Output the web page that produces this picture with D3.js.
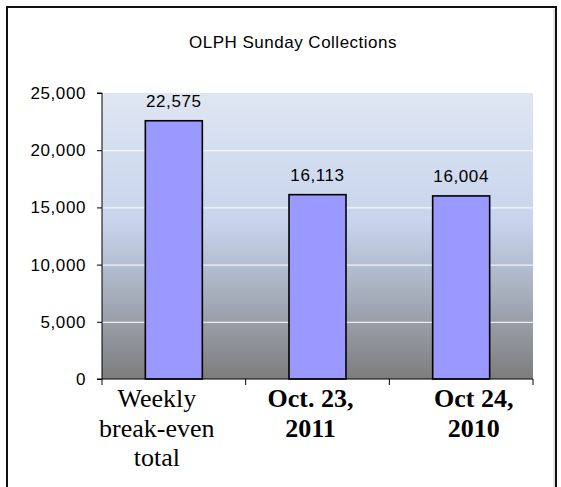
<!DOCTYPE html>
<html><head><meta charset="utf-8">
<script src="https://cdn.jsdelivr.net/npm/d3@7/dist/d3.min.js"></script>
<style>body{margin:0;background:#fff}svg{display:block}</style>
</head><body><svg id="c" width="561" height="487"></svg>
<script>
const title = "OLPH Sunday Collections";
const categories = ["Weekly break-even total", "Oct. 23, 2011", "Oct 24, 2010"];
const categoryLines = [["Weekly", "break-even", "total"], ["Oct. 23,", "2011"], ["Oct 24,", "2010"]];
const categoryBold = [false, true, true];
const values = [22575, 16113, 16004];
const yTicks = [0, 5000, 10000, 15000, 20000, 25000];
// layout constants
const labelShift = [-17, -7, 12.5];

const svg = d3.select("#c");
const L = 102, R = 533, T = 93, B = 379;

svg.append("rect").attr("x", 7).attr("y", 7).attr("width", 549).attr("height", 500)
  .attr("fill", "#fff").attr("stroke", "#111").attr("stroke-width", 2);
svg.append("line").attr("x1", 554).attr("x2", 554).attr("y1", 9).attr("y2", 487)
  .attr("stroke", "#c8c8c8").attr("stroke-width", 1);

const defs = svg.append("defs");
const g = defs.append("linearGradient").attr("id", "bg").attr("x1", 0).attr("x2", 0).attr("y1", 0).attr("y2", 1);
[["0%", "#dfe6f3"], ["45%", "#c7d4ec"], ["62%", "#b2bccf"], ["100%", "#7d7d7d"]]
  .forEach(s => g.append("stop").attr("offset", s[0]).attr("stop-color", s[1]));

const x = d3.scaleBand().domain(categories).range([L, R]).paddingInner(0).paddingOuter(0);
const y = d3.scaleLinear().domain([0, 25000]).range([B, T]);

svg.append("rect").attr("x", L).attr("y", T).attr("width", R - L).attr("height", B - T).attr("fill", "url(#bg)");

svg.append("g").selectAll("line").data(yTicks.filter(t => t > 0 && t < 25000)).join("line")
  .attr("x1", L).attr("x2", R).attr("y1", d => y(d) + 0.5).attr("y2", d => y(d) + 0.5)
  .attr("stroke", "#fff").attr("stroke-width", 1);

const barW = 57;
svg.append("g").selectAll("rect").data(values).join("rect")
  .attr("x", (d, i) => x(categories[i]) + x.bandwidth() / 2 - barW / 2)
  .attr("y", d => y(d))
  .attr("width", barW)
  .attr("height", d => B - y(d))
  .attr("fill", "#9999ff").attr("stroke", "#000").attr("stroke-width", 1.6);

const fmt = d3.format(",");
const sans = "Arial, 'Liberation Sans', sans-serif";
svg.append("g").selectAll("text").data(values).join("text")
  .attr("x", (d, i) => x(categories[i]) + x.bandwidth() / 2)
  .attr("y", d => y(d) - 14)
  .attr("text-anchor", "middle")
  .attr("font-family", sans).attr("font-size", 17)
  .attr("letter-spacing", 0.6).attr("fill", "#000")
  .text(d => fmt(d));

// y axis
const ya = d3.axisLeft(y).tickValues(yTicks).tickFormat(fmt).tickSize(5).tickPadding(10);
const yg = svg.append("g").attr("transform", `translate(${L},0)`).call(ya);
yg.select(".domain").attr("stroke", "#000").attr("d", `M-5,${T}H0V${B}`);
yg.selectAll(".tick line").attr("stroke", "#000");
yg.selectAll(".tick text").attr("font-family", sans)
  .attr("font-size", 17).attr("letter-spacing", 0.6).attr("fill", "#000").attr("x", -16);

// x axis
const xa = svg.append("g").attr("transform", `translate(0,${B})`);
xa.append("line").attr("x1", L - 5).attr("x2", R).attr("y1", 0).attr("y2", 0).attr("stroke", "#000").attr("stroke-width", 1);
const edges = categories.map(c => x(c)).concat([R]);
xa.selectAll("line.t").data(edges).join("line").attr("class", "t")
  .attr("x1", d => d).attr("x2", d => d).attr("y1", 0).attr("y2", 6)
  .attr("stroke", "#000").attr("stroke-width", 1);

const cl = svg.append("g").selectAll("text").data(categories).join("text")
  .attr("text-anchor", "middle")
  .attr("font-family", "'Times New Roman', 'Liberation Serif', serif").attr("font-size", 26)
  .attr("font-weight", (d, i) => categoryBold[i] ? "bold" : "normal")
  .attr("fill", "#000");
cl.each(function (d, i) {
  const cx = x(d) + x.bandwidth() / 2 + labelShift[i];
  d3.select(this).selectAll("tspan").data(categoryLines[i]).join("tspan")
    .attr("x", cx).attr("y", (t, j) => 407 + j * 29.5).text(t => t);
});

svg.append("text").attr("x", 293).attr("y", 48).attr("text-anchor", "middle")
  .attr("font-family", sans).attr("font-size", 17)
  .attr("letter-spacing", 0.5).attr("fill", "#000").text(title);
</script></body></html>
